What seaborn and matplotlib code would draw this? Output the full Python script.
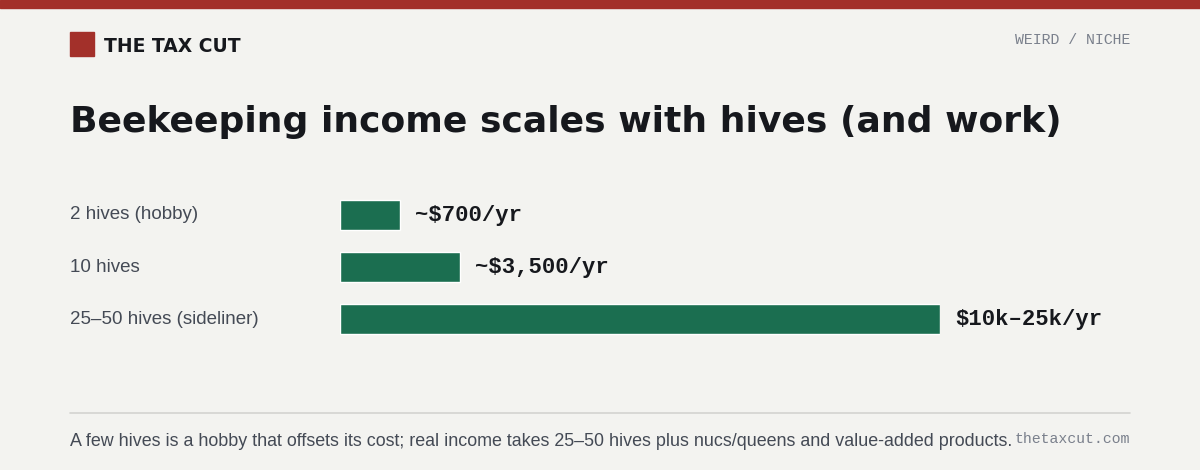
import matplotlib
matplotlib.use("Agg")
import matplotlib.pyplot as plt
import seaborn as sns
import pandas as pd

categories = ["2 hives (hobby)", "10 hives", "25–50 hives (sideliner)"]
bar_lengths = [0.1, 0.2, 1.0]  # relative bar length as drawn
value_labels = ["~$700/yr", "~$3,500/yr", "$10k–25k/yr"]

sns.set_theme(style="white")
plt.rcParams['font.family'] = ['Liberation Sans', 'DejaVu Sans']
BG = "#f3f3f0"
W, H = 1200, 470
fig = plt.figure(figsize=(12, 4.7), dpi=100, facecolor=BG)

def fx(x): return x / W
def fy(y): return 1 - y / H

fig.patches.append(plt.Rectangle((0, fy(8)), 1, 8 / H, transform=fig.transFigure, color="#a3302a"))
fig.patches.append(plt.Rectangle((fx(70), fy(56)), 24 / W, 24 / H, transform=fig.transFigure, color="#a3302a"))
fig.text(fx(104), fy(46), "THE TAX CUT", fontsize=13.5, fontweight="bold", family="DejaVu Sans", color="#16181d", va="center")
fig.text(fx(1130), fy(40), "WEIRD / NICHE", fontsize=10.7, family="Liberation Mono", color="#7a808c", ha="right", va="center")
fig.text(fx(70), fy(122), "Beekeeping income scales with hives (and work)", fontsize=26, fontweight="bold",
         family="DejaVu Sans", color="#16181d", va="center")

df = pd.DataFrame({"cat": categories, "val": bar_lengths})
ax = fig.add_axes([fx(340), fy(345), 600 / W, (345 - 189) / H])
ax.set_facecolor(BG)
sns.barplot(data=df, x="val", y="cat", color="#1b6e50", width=0.58, saturation=1, ax=ax)
ax.set_xlim(0, 1.0)
ax.set_ylim(2.5, -0.5)
for i, (v, lab) in enumerate(zip(bar_lengths, value_labels)):
    ax.text(v + 0.025, i, lab, fontsize=16, fontweight="bold", family="Liberation Mono", color="#16181d", va="center", clip_on=False)
ax.set_yticks([])
ax.set_xticks([])
ax.set_xlabel(""); ax.set_ylabel("")
for s in ax.spines.values():
    s.set_visible(False)
for i, c in enumerate(categories):
    y_px = 215 + 52 * i
    fig.text(fx(70), fy(y_px), c, fontsize=13.5, color="#444a55", va="center")

fig.add_artist(plt.Line2D([fx(70), fx(1130)], [fy(413), fy(413)], transform=fig.transFigure, color="#d3d3d0", lw=1.2))
fig.text(fx(70), fy(441), "A few hives is a hobby that offsets its cost; real income takes 25–50 hives plus nucs/queens and value-added products.",
         fontsize=12.9, color="#444a55", va="center")
fig.text(fx(1130), fy(439), "thetaxcut.com", fontsize=10.7, family="Liberation Mono", color="#7a808c", ha="right", va="center")

fig.savefig("out.png", dpi=100, facecolor=BG)
